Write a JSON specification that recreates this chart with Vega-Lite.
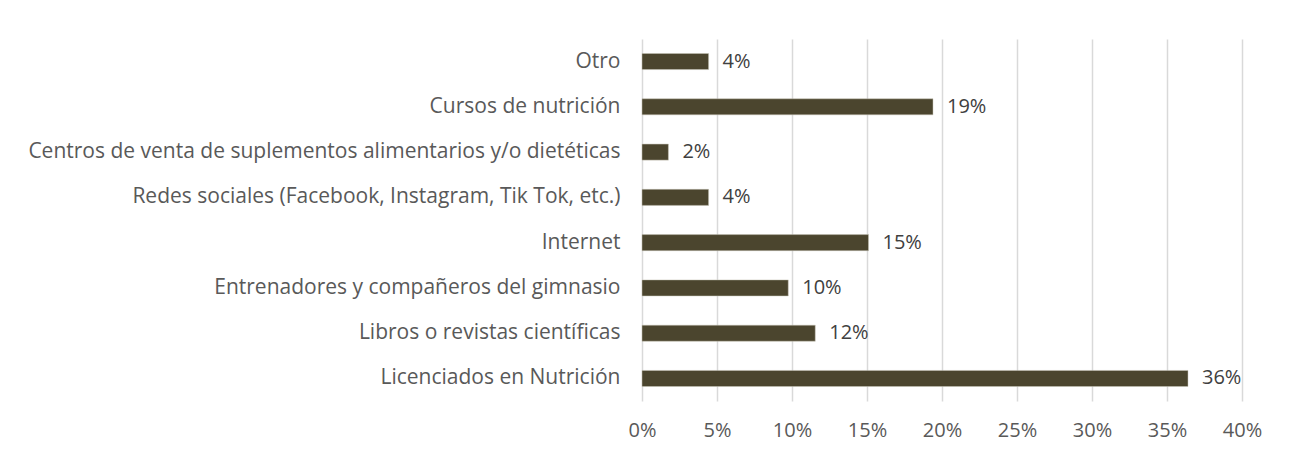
{
  "$schema": "https://vega.github.io/schema/vega-lite/v6.json",
  "width": 600,
  "height": 362,
  "autosize": {"type": "none"},
  "padding": {"left": 642, "top": 39, "right": 59, "bottom": 53},
  "background": "white",
  "config": {
    "view": {"stroke": null},
    "font": "Open Sans"
  },
  "data": {
    "values": [
      {"fuente": "Otro", "valor": 0.0444},
      {"fuente": "Cursos de nutrición", "valor": 0.194},
      {"fuente": "Centros de venta de suplementos alimentarios y/o dietéticas", "valor": 0.0176},
      {"fuente": "Redes sociales (Facebook, Instagram, Tik Tok, etc.)", "valor": 0.0444},
      {"fuente": "Internet", "valor": 0.151},
      {"fuente": "Entrenadores y compañeros del gimnasio", "valor": 0.0975},
      {"fuente": "Libros o revistas científicas", "valor": 0.1155},
      {"fuente": "Licenciados en Nutrición", "valor": 0.364}
    ]
  },
  "encoding": {
    "y": {
      "field": "fuente",
      "type": "nominal",
      "sort": null,
      "scale": {"paddingInner": 0.645, "paddingOuter": 0.32},
      "axis": {
        "title": null,
        "domain": false,
        "ticks": false,
        "labelPadding": 22,
        "labelFontSize": 21,
        "labelColor": "#595959",
        "labelLimit": 700
      }
    },
    "x": {
      "field": "valor",
      "type": "quantitative",
      "scale": {"domain": [0, 0.4], "nice": false},
      "axis": {
        "title": null,
        "format": ".0%",
        "values": [0, 0.05, 0.1, 0.15, 0.2, 0.25, 0.3, 0.35, 0.4],
        "domain": false,
        "ticks": false,
        "grid": true,
        "gridColor": "#d9d9d9",
        "gridWidth": 1.5,
        "labelFlush": false,
        "labelPadding": 19,
        "labelFontSize": 20,
        "labelColor": "#595959"
      }
    }
  },
  "layer": [
    {
      "mark": {"type": "bar", "color": "#4b452e", "stroke": "#c9c6b8", "strokeWidth": 0.5}
    },
    {
      "mark": {"type": "text", "align": "left", "baseline": "middle", "dx": 14, "fontSize": 20, "color": "#404040"},
      "encoding": {
        "text": {"field": "valor", "type": "quantitative", "format": ".0%"}
      }
    }
  ]
}
